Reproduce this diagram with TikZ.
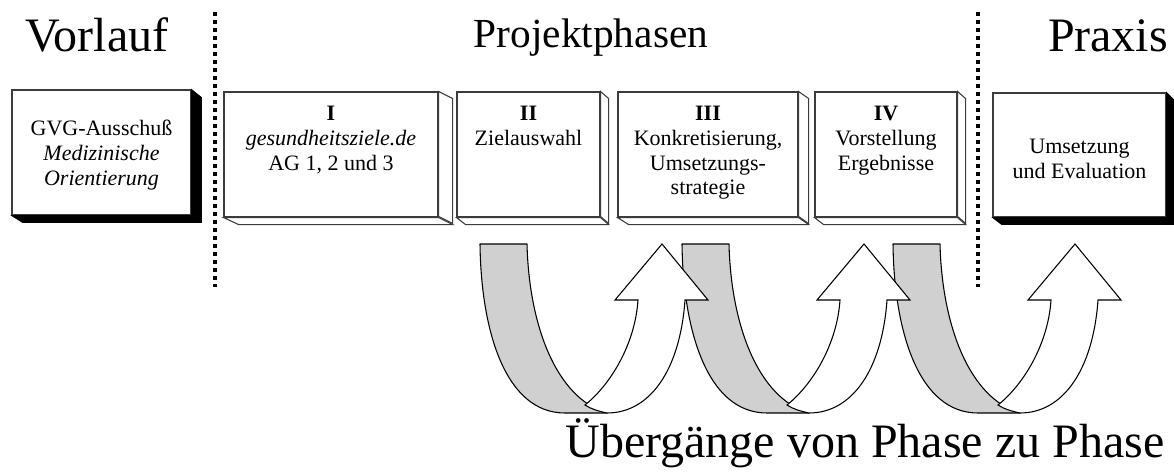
\documentclass[tikz,border=0pt]{standalone}
\usepackage{fontspec}
\setmainfont{Liberation Serif}
\usetikzlibrary{fit}
\definecolor{ribbongray}{RGB}{208,208,208}
\definecolor{edgegray}{RGB}{60,60,60}
\tikzset{
  frontface/.style={draw=edgegray, line width=0.8pt, fill=white, inner sep=0pt},
  sideface/.style={draw=edgegray, line width=0.8pt, fill=white, line join=miter},
  shadowface/.style={fill=black, draw=black, line width=0.5pt},
  boxtext/.style={font=\fontsize{16.5}{18.5}\selectfont, align=center, inner sep=0pt},
  titletext/.style={font=\fontsize{36}{40}\selectfont, anchor=base, inner sep=0pt},
  dotrule/.style={line width=3pt, dash pattern=on 3pt off 3pt},
  ribbonback/.style={draw=black, line width=0.8pt, fill=ribbongray, line join=round},
  ribbonfront/.style={draw=black, line width=0.8pt, fill=white, line join=miter},
}
\newcommand{\uturnarrow}[1]{%
  \begin{scope}[shift={(#1,0)}]
    \path[ribbonback] (480,244) -- (527,244)
      .. controls (529,325) and (556,398) .. (607,413)
      -- (565,413)
      .. controls (505,413) and (481,330) .. (480,244) -- cycle;
    \path[ribbonfront] (585,405)
      .. controls (610,385) and (635,345) .. (638,300)
      -- (615,300) -- (662,244) -- (708,300) -- (685,300)
      .. controls (680,370) and (650,413) .. (607,413)
      .. controls (598,411) and (591,409) .. (585,405) -- cycle;
  \end{scope}}
\begin{document}
\begin{tikzpicture}[x=0.75pt,y=-0.75pt]
\useasboundingbox (0,0) rectangle (1174,474);

% titles
\node[titletext] (tvor) at (97,52) {Vorlauf};
\node[titletext, font=\fontsize{31}{35}\selectfont] (tproj) at (591,48) {Projektphasen};
\node[titletext] (tprax) at (1108,52) {Praxis};
\node[titletext] (tueb) at (865,457) {Übergänge von Phase zu Phase};

% dotted separators
\coordinate (s1a) at (215,12);
\coordinate (s1b) at (215,287);
\coordinate (s2a) at (978,12);
\coordinate (s2b) at (978,287);
\draw[dotrule] (s1a) -- (s1b);
\draw[dotrule] (s2a) -- (s2b);

% GVG box with black shadow
\node[fit={(12,90) (191,215)}, frontface] (b0) {};
\fill[shadowface] (b0.north east) -- ++(10,8) -- ++(0,125) -- ++(-179,0) -- (b0.south west) -- (b0.south east) -- cycle;
\node[boxtext] (b0t) at (101.5,155) {GVG-Ausschuß\\\textit{Medizinische}\\\textit{Orientierung}};

% Praxis box with black shadow
\node[fit={(993,93) (1166,217)}, frontface] (b5) {};
\fill[shadowface] (b5.north east) -- ++(8,8) -- ++(0,124) -- ++(-173,0) -- (b5.south west) -- (b5.south east) -- cycle;
\node[boxtext] (b5t) at (1079.5,159) {Umsetzung\\und Evaluation};

% phase boxes with bevel
\node[fit={(224,92) (438,217)}, frontface] (b1) {};
\draw[sideface] (b1.north east) -- ++(14,7) -- ++(0,125) -- ++(-14,-7) -- cycle;
\draw[sideface] (b1.south west) -- (b1.south east) -- ++(14,7) -- ++(-214,0) -- cycle;
\node[boxtext, anchor=north] (b1t) at (331,106) {\textbf{I}\\\textit{gesundheitsziele.de}\\AG 1, 2 und 3};

\node[fit={(457,92) (600,217)}, frontface] (b2) {};
\draw[sideface] (b2.north east) -- ++(8,7) -- ++(0,125) -- ++(-8,-7) -- cycle;
\draw[sideface] (b2.south west) -- (b2.south east) -- ++(8,7) -- ++(-143,0) -- cycle;
\node[boxtext, anchor=north] (b2t) at (528.5,106) {\textbf{II}\\Zielauswahl};

\node[fit={(618,92) (798,217)}, frontface] (b3) {};
\draw[sideface] (b3.north east) -- ++(10,7) -- ++(0,125) -- ++(-10,-7) -- cycle;
\draw[sideface] (b3.south west) -- (b3.south east) -- ++(10,7) -- ++(-180,0) -- cycle;
\node[boxtext, anchor=north] (b3t) at (708,106) {\textbf{III}\\Konkretisierung,\\Umsetzungs-\\strategie};

\node[fit={(815,92) (957,217)}, frontface] (b4) {};
\draw[sideface] (b4.north east) -- ++(8,7) -- ++(0,125) -- ++(-8,-7) -- cycle;
\draw[sideface] (b4.south west) -- (b4.south east) -- ++(8,7) -- ++(-142,0) -- cycle;
\node[boxtext, anchor=north] (b4t) at (886,106) {\textbf{IV}\\Vorstellung\\Ergebnisse};

% U-turn transition arrows (right to left so each head lies on the next ribbon)
\uturnarrow{413}
\uturnarrow{202}
\uturnarrow{0}
\end{tikzpicture}
\end{document}
